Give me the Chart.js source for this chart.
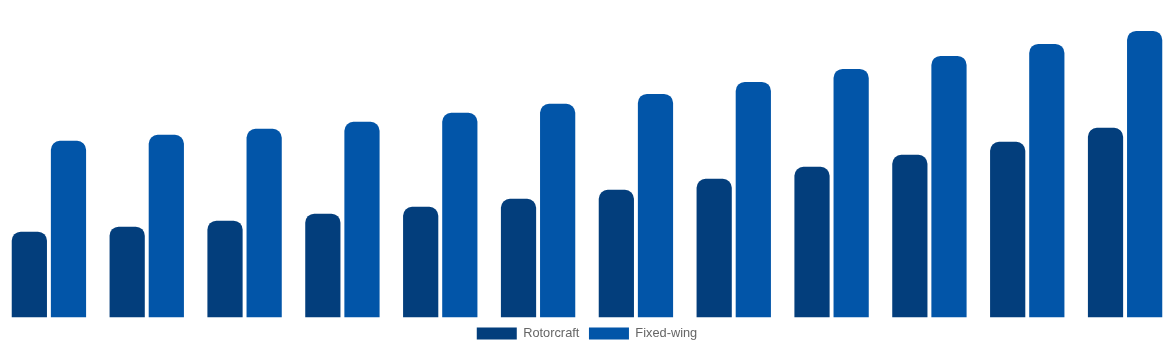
<!DOCTYPE html>
<html>
<head>
<meta charset="utf-8">
<script src="https://cdn.jsdelivr.net/npm/chart.js@4"></script>
<style>
  html, body { margin: 0; padding: 0; background: #fff; }
  #wrap { width: 1174px; height: 350px; }
</style>
</head>
<body>
<div id="wrap"><canvas id="chart"></canvas></div>
<script>
var labels = ["2012", "2013", "2014", "2015", "2016", "2017", "2018", "2019", "2020", "2021", "2022", "2023"];
var rotorcraft = [86, 91, 97, 104, 111, 119, 128, 139, 151, 163, 176, 190];
var fixedWing = [177, 183, 189, 196, 205, 214, 224, 236, 249, 262, 274, 287];
var yMax = 318;

new Chart("chart", {
  type: "bar",
  data: {
    labels: labels,
    datasets: [{
      label: "Rotorcraft",
      data: rotorcraft,
      backgroundColor: "#033e7c",
      borderRadius: 9,
      borderSkipped: "bottom"
    }, {
      label: "Fixed-wing",
      data: fixedWing,
      backgroundColor: "#0255a8",
      borderRadius: 9,
      borderSkipped: "bottom"
    }]
  },
  options: {
    responsive: true,
    maintainAspectRatio: false,
    animation: false,
    categoryPercentage: 0.8,
    barPercentage: 0.9,
    layout: { padding: 0 },
    scales: {
      x: { display: false },
      y: { display: false, min: 0, max: yMax }
    },
    plugins: {
      tooltip: { enabled: false },
      legend: {
        display: true,
        position: "bottom",
        labels: {
          color: "#666",
          font: { family: "'Liberation Sans', Arial, sans-serif", size: 12.8 },
          boxWidth: 40,
          boxHeight: 12,
          padding: 9.6
        }
      }
    }
  }
});
</script>
</body>
</html>
